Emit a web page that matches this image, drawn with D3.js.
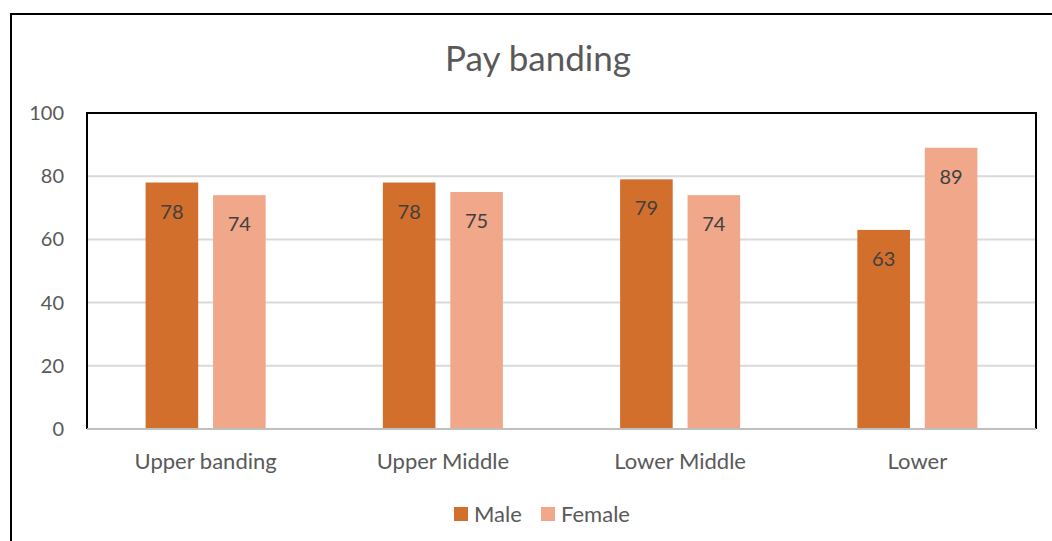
<!DOCTYPE html>
<html>
<head>
<meta charset="utf-8">
<script src="https://cdn.jsdelivr.net/npm/d3@7"></script>
<style>
  body { margin: 0; background: #fff; }
  svg text { font-family: Lato, "Open Sans", sans-serif; }
</style>
</head>
<body>
<script>
// chart data
var categories = ["Upper banding", "Upper Middle", "Lower Middle", "Lower"];
var seriesNames = ["Male", "Female"];
var maleValues = [78, 78, 79, 63];
var femaleValues = [74, 75, 74, 89];
var yTicks = [0, 20, 40, 60, 80, 100];
var colors = ["#d36f2c", "#f1a88a"];

var W = 1052, H = 541;
var plot = { left: 87, right: 1036, top: 113, bottom: 429 };

var svg = d3.select("body").append("svg")
    .attr("width", W)
    .attr("height", H);

// outer chart border
svg.append("rect")
    .attr("x", 11).attr("y", 14)
    .attr("width", W + 10).attr("height", H + 10)
    .attr("fill", "none")
    .attr("stroke", "#000")
    .attr("stroke-width", 2);

svg.append("text")
    .attr("x", 538).attr("y", 71)
    .attr("text-anchor", "middle")
    .attr("font-size", 35)
    .attr("fill", "#595959")
    .text("Pay banding");

var y = d3.scaleLinear().domain([0, 100]).range([plot.bottom, plot.top]);
var x0 = d3.scaleBand().domain(categories)
    .range([plot.left, plot.right])
    .paddingInner(0.494).paddingOuter(0.247);
var x1 = d3.scaleBand().domain(seriesNames)
    .range([0, x0.bandwidth()])
    .paddingInner(0.22);

// gridlines
svg.append("g")
    .selectAll("line")
    .data(yTicks.filter(function (d) { return d > 0; }))
    .join("line")
    .attr("x1", plot.left).attr("x2", plot.right)
    .attr("y1", function (d) { return y(d); })
    .attr("y2", function (d) { return y(d); })
    .attr("stroke", "#d9d9d9")
    .attr("stroke-width", 2);

// y tick labels
svg.append("g")
    .selectAll("text")
    .data(yTicks)
    .join("text")
    .attr("x", 64)
    .attr("y", function (d) { return y(d); })
    .attr("dy", "0.35em")
    .attr("text-anchor", "end")
    .attr("font-size", 20)
    .attr("fill", "#595959")
    .text(function (d) { return d; });

var rows = categories.map(function (c, i) {
    return { cat: c, vals: [maleValues[i], femaleValues[i]] };
});

var groups = svg.append("g")
    .selectAll("g")
    .data(rows)
    .join("g")
    .attr("transform", function (d) { return "translate(" + x0(d.cat) + ",0)"; });

groups.selectAll("rect")
    .data(function (d) { return d.vals.map(function (v, j) { return { s: seriesNames[j], v: v, j: j }; }); })
    .join("rect")
    .attr("x", function (d) { return x1(d.s); })
    .attr("y", function (d) { return y(d.v); })
    .attr("width", x1.bandwidth())
    .attr("height", function (d) { return y(0) - y(d.v); })
    .attr("fill", function (d) { return colors[d.j]; });

groups.selectAll("text")
    .data(function (d) { return d.vals.map(function (v, j) { return { s: seriesNames[j], v: v }; }); })
    .join("text")
    .attr("x", function (d) { return x1(d.s) + x1.bandwidth() / 2; })
    .attr("y", function (d) { return y(d.v) + 36; })
    .attr("text-anchor", "middle")
    .attr("font-size", 20)
    .attr("fill", "#404040")
    .text(function (d) { return d.v; });

// plot area border
svg.append("path")
    .attr("d", "M" + plot.left + "," + plot.bottom + "V" + plot.top + "H" + plot.right + "V" + plot.bottom)
    .attr("fill", "none")
    .attr("stroke", "#000")
    .attr("stroke-width", 2);

// x axis line
svg.append("line")
    .attr("x1", plot.left).attr("x2", plot.right)
    .attr("y1", plot.bottom).attr("y2", plot.bottom)
    .attr("stroke", "#bfbfbf")
    .attr("stroke-width", 2);

// category labels
svg.append("g")
    .selectAll("text")
    .data(categories)
    .join("text")
    .attr("x", function (d) { return x0(d) + x0.bandwidth() / 2; })
    .attr("y", 469)
    .attr("text-anchor", "middle")
    .attr("font-size", 22)
    .attr("fill", "#595959")
    .text(function (d) { return d; });

// legend
var legendX = [454, 541];
var legend = svg.append("g")
    .selectAll("g")
    .data(seriesNames)
    .join("g")
    .attr("transform", function (d, i) { return "translate(" + legendX[i] + ",507)"; });
legend.append("rect")
    .attr("width", 14).attr("height", 14)
    .attr("fill", function (d, i) { return colors[i]; });
legend.append("text")
    .attr("x", 20).attr("y", 15)
    .attr("font-size", 22)
    .attr("fill", "#595959")
    .text(function (d) { return d; });
</script>
</body>
</html>
